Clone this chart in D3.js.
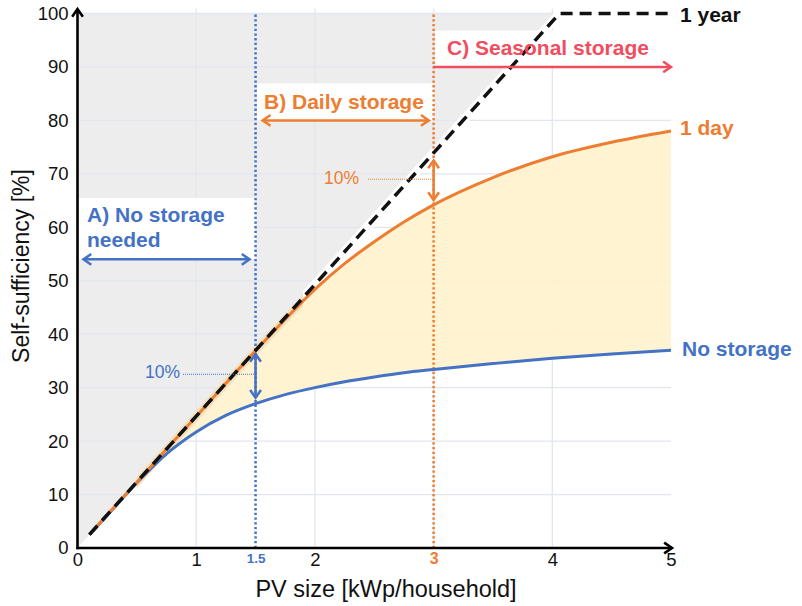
<!DOCTYPE html>
<html>
<head>
<meta charset="utf-8">
<script src="https://cdn.jsdelivr.net/npm/d3@7"></script>
<style>
  body { margin: 0; background: #fff; }
  svg { display: block; font-family: Arial, "Liberation Sans", sans-serif; }
</style>
</head>
<body>
<div id="chart"></div>
<script>
'use strict'

// PV size [kWp/household]
const pvSize = [0.1, 0.25, 0.5, 0.75, 1.0, 1.25, 1.5, 1.75, 2.0, 2.25, 2.5, 2.75, 3.0, 3.5, 4.0, 4.5, 5.0]
// self-sufficiency [%]
const noStorage = [2.5, 6.1, 12.2, 17.6, 21.7, 24.8, 27.0, 28.7, 30.0, 31.1, 32.0, 32.8, 33.4, 34.5, 35.5, 36.3, 37.0]
const oneDay = [2.5, 6.2, 12.3, 18.5, 24.6, 30.8, 36.9, 42.8, 48.4, 53.2, 57.3, 61.0, 64.2, 69.3, 73.2, 75.9, 78.0]
const oneYearX = [0.1, 4.06, 5]
const oneYearY = [2.5, 100, 100]

const yTicks = [0, 10, 20, 30, 40, 50, 60, 70, 80, 90, 100]
const xTicks = [0, 1, 1.5, 2, 3, 4, 5]
const gridX = [1, 2, 3, 4]
const thresholds = [1.5, 3]   // end of "no storage", end of "daily storage"

const blue = '#4472c4'
const orange = '#ed7d31'
const red = '#f04e60'

let width = 802
let height = 606

let svg = d3.select('#chart').append('svg')
  .attr('width', width)
  .attr('height', height)

let x = d3.scaleLinear().domain([0, 5]).range([77.5, 671])
let y = d3.scaleLinear().domain([0, 100]).range([548, 13.5])

// open chevron arrow, heads at the end (and the start if both)
function arrow(g, x1, y1, x2, y2, color, both, w) {
  w = w || 2.5
  g.append('line')
    .attr('x1', x1).attr('y1', y1).attr('x2', x2).attr('y2', y2)
    .attr('stroke', color).attr('stroke-width', w)
  let head = function (px, py, ang) {
    let l = 9.5, s = 0.6
    let pts = [
      [px - l * Math.cos(ang - s), py - l * Math.sin(ang - s)],
      [px, py],
      [px - l * Math.cos(ang + s), py - l * Math.sin(ang + s)]
    ]
    g.append('path').attr('d', d3.line()(pts))
      .attr('fill', 'none').attr('stroke', color).attr('stroke-width', w)
      .attr('stroke-linejoin', 'miter')
  }
  let a = Math.atan2(y2 - y1, x2 - x1)
  head(x2, y2, a)
  if (both) head(x1, y1, a + Math.PI)
}

// grey area above the 1 year line
svg.append('path')
  .attr('d', d3.line()([[x(0), y(0)], [x(0), y(100)], [x(oneYearX[1]), y(100)]]) + 'Z')
  .attr('fill', '#ededed')

// gridlines
let grid = svg.append('g').attr('stroke', '#e2e6f0').attr('stroke-width', 1.3)
grid.selectAll('.h').data(yTicks.slice(1)).join('line')
  .attr('x1', x(0)).attr('x2', x(5))
  .attr('y1', d => y(d)).attr('y2', d => y(d))
grid.selectAll('.v').data(gridX).join('line')
  .attr('x1', d => x(d)).attr('x2', d => x(d))
  .attr('y1', y(0)).attr('y2', y(100) - 5)

// white boxes behind the region labels
let boxes = [
  [0, 1.5, 65.5, 54],
  [1.5, 3, 86.9, 80],
  [3, 5, 96.8, 90]
]
svg.append('g').selectAll('rect').data(boxes).join('rect')
  .attr('x', d => x(d[0]) + 1.5)
  .attr('width', d => x(d[1]) - x(d[0]) - 1.5)
  .attr('y', d => y(d[2]))
  .attr('height', d => y(d[3]) - y(d[2]))
  .attr('fill', '#fff')

// fill between no storage and 1 day
let idx = d3.range(pvSize.length)
svg.append('path')
  .datum(idx)
  .attr('d', d3.area()
    .x(i => x(pvSize[i]))
    .y0(i => y(noStorage[i]))
    .y1(i => y(oneDay[i]))
    .curve(d3.curveMonotoneX))
  .attr('fill', '#fff2cc')
  .attr('fill-opacity', 0.9)

// halos along the diagonal
svg.append('clipPath').attr('id', 'lowClip').append('rect')
  .attr('x', x(0.5)).attr('y', 0).attr('width', x(1.9) - x(0.5)).attr('height', height)
svg.append('clipPath').attr('id', 'highClip').append('rect')
  .attr('x', x(1.9)).attr('y', 0).attr('width', x(5) - x(1.9)).attr('height', height)

let dayLine = d3.line()
  .x(i => x(pvSize[i]))
  .y(i => y(oneDay[i]))
  .curve(d3.curveMonotoneX)
let yearLine = d3.line()
  .x((d, i) => x(oneYearX[i]))
  .y((d, i) => y(oneYearY[i]))

svg.append('path').datum(idx).attr('d', dayLine)
  .attr('clip-path', 'url(#lowClip)')
  .attr('fill', 'none').attr('stroke', '#f3e2c0').attr('stroke-width', 8)
svg.append('path').datum(oneYearX).attr('d', yearLine)
  .attr('clip-path', 'url(#highClip)')
  .attr('fill', 'none').attr('stroke', '#fff').attr('stroke-width', 9)

// threshold dotted lines
svg.append('g').selectAll('line').data(thresholds).join('line')
  .attr('x1', d => x(d)).attr('x2', d => x(d))
  .attr('y1', y(0)).attr('y2', y(100))
  .attr('stroke', (d, i) => i ? orange : blue)
  .attr('stroke-width', 2.5)
  .attr('stroke-dasharray', '2.3,2.4')

// curves
svg.append('path').datum(idx)
  .attr('d', d3.line().x(i => x(pvSize[i])).y(i => y(noStorage[i])).curve(d3.curveMonotoneX))
  .attr('fill', 'none').attr('stroke', blue).attr('stroke-width', 3)
svg.append('path').datum(idx).attr('d', dayLine)
  .attr('fill', 'none').attr('stroke', orange).attr('stroke-width', 3)
svg.append('path').datum(oneYearX).attr('d', yearLine)
  .attr('fill', 'none').attr('stroke', '#111').attr('stroke-width', 3.5)
  .attr('stroke-dasharray', '12,7')

// region arrows
let ann = svg.append('g')
arrow(ann, x(0.05), y(54), x(1.45), y(54), blue, true)
arrow(ann, x(1.56), y(80), x(2.96), y(80), orange, true)
arrow(ann, x(3), y(90), x(5), y(90), red, false)

// 10% gaps
arrow(ann, x(1.5), y(36.3), x(1.5), y(28.1), blue, true)
arrow(ann, x(3), y(72.5), x(3), y(65.1), orange, true)
ann.append('line').attr('x1', 183).attr('x2', x(1.5)).attr('y1', y(32.5)).attr('y2', y(32.5))
  .attr('stroke', blue).attr('stroke-width', 1).attr('stroke-dasharray', '1,1')
ann.append('line').attr('x1', 368).attr('x2', x(3)).attr('y1', y(69)).attr('y2', y(69))
  .attr('stroke', orange).attr('stroke-width', 1).attr('stroke-dasharray', '1,1')
ann.append('text').attr('x', 145).attr('y', 378).attr('font-size', 17.5)
  .attr('fill', blue).text('10%')
ann.append('text').attr('x', 324).attr('y', 184).attr('font-size', 17.5)
  .attr('fill', orange).text('10%')

// axes
let yAxis = d3.axisLeft(y).tickValues(yTicks).tickSize(0).tickPadding(9)
svg.append('g')
  .attr('transform', 'translate(' + x(0) + ',0)')
  .call(yAxis)
  .call(g => g.select('.domain').remove())
  .selectAll('text')
  .attr('font-size', 18.5)
  .attr('font-family', 'Arial, "Liberation Sans", sans-serif')
  .attr('fill', '#111')

let xAxis = d3.axisBottom(x).tickValues(xTicks).tickSize(0).tickPadding(5)
  .tickFormat(d => String(d))
svg.append('g')
  .attr('transform', 'translate(0,' + y(0) + ')')
  .call(xAxis)
  .call(g => g.select('.domain').remove())
  .selectAll('text')
  .attr('font-family', 'Arial, "Liberation Sans", sans-serif')
  .attr('font-size', d => d === 1.5 ? 13.5 : (d === 3 ? 16 : 18.5))
  .attr('font-weight', d => thresholds.includes(d) ? 'bold' : 'normal')
  .attr('fill', d => d === 1.5 ? blue : (d === 3 ? orange : '#111'))

let axes = svg.append('g')
arrow(axes, x(0), y(0) + 1.2, x(0), 9, '#000', false, 2.6)
arrow(axes, x(0) - 1.2, y(0), 672, y(0), '#000', false, 2.6)

// axis titles
svg.append('text')
  .attr('text-anchor', 'middle')
  .attr('transform', 'translate(29,266)rotate(-90)')
  .attr('font-size', 23)
  .attr('fill', '#111')
  .text('Self-sufficiency [%]')
svg.append('text')
  .attr('text-anchor', 'middle')
  .attr('x', 386).attr('y', 597)
  .attr('font-size', 23.5)
  .attr('fill', '#111')
  .text('PV size [kWp/household]')

// series labels
let labels = svg.append('g').attr('font-weight', 'bold').attr('font-size', 21)
labels.append('text').attr('x', 680).attr('y', 22).attr('fill', '#111').text('1 year')
labels.append('text').attr('x', 680).attr('y', 135).attr('fill', orange).text('1 day')
labels.append('text').attr('x', 682).attr('y', 356).attr('fill', blue).text('No storage')
labels.append('text').attr('x', 447).attr('y', 55).attr('fill', red).text('C) Seasonal storage')
labels.append('text').attr('x', 264).attr('y', 109).attr('fill', orange).text('B) Daily storage')
labels.append('text').attr('x', 87).attr('y', 222).attr('fill', blue).text('A) No storage')
labels.append('text').attr('x', 87).attr('y', 247).attr('fill', blue).text('needed')
</script>
</body>
</html>
